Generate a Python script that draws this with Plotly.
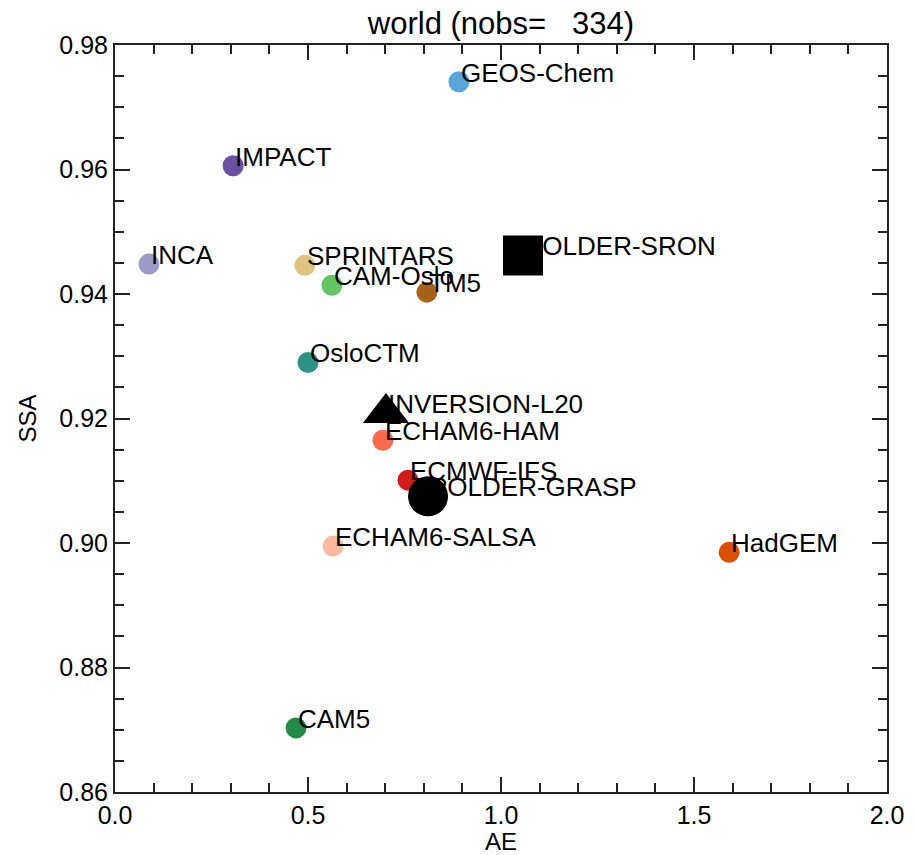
import plotly.graph_objects as go

# Model / retrieval names and their regional mean AE and SSA
models = ["GEOS-Chem", "IMPACT", "INCA", "SPRINTARS", "CAM-Oslo", "TM5",
          "OsloCTM", "ECHAM6-HAM", "ECMWF-IFS", "ECHAM6-SALSA", "HadGEM", "CAM5"]
model_ae = [0.891, 0.306, 0.088, 0.492, 0.562, 0.808,
            0.500, 0.694, 0.759, 0.565, 1.591, 0.469]
model_ssa = [0.9741, 0.9606, 0.9448, 0.9446, 0.9414, 0.9403,
             0.9290, 0.9165, 0.9101, 0.8995, 0.8985, 0.8703]
model_colors = ["#5aa5d8", "#6a51a3", "#9e9ac8", "#dfc27d", "#62c462", "#a6611a",
                "#2c9385", "#fb6a4a", "#d01c1c", "#fcbba1", "#d95000", "#238b45"]

obs_names = ["POLDER-SRON", "INVERSION-L20", "POLDER-GRASP"]
obs_ae = [1.057, 0.702, 0.811]
obs_ssa = [0.9462, 0.9209, 0.9075]
obs_symbols = ["square", "triangle-up", "circle"]

nobs = 334
title_text = "world (nobs=\u00a0\u00a0\u00a0" + str(nobs) + ")"

FONT = "Liberation Sans, Arial, Helvetica, sans-serif"

fig = go.Figure()

fig.add_trace(go.Scatter(
    x=model_ae, y=model_ssa, mode="markers",
    marker=dict(size=21, color=model_colors, opacity=1, line=dict(width=0)),
    hovertext=models, showlegend=False,
))

fig.add_trace(go.Scatter(
    x=obs_ae, y=obs_ssa, mode="markers",
    marker=dict(size=40, color="black", opacity=1, symbol=obs_symbols, line=dict(width=0)),
    hovertext=obs_names, showlegend=False,
))

# Labels: text starts at the point, baseline on the point
annotations = []
for name, xv, yv in zip(models + obs_names, model_ae + obs_ae, model_ssa + obs_ssa):
    annotations.append(dict(
        x=xv, y=yv, xref="x", yref="y", text=name, showarrow=False,
        xanchor="left", yanchor="bottom", yshift=-8, xshift=0,
        font=dict(family=FONT, size=26, color="black"),
    ))

axis_common = dict(
    showgrid=False, zeroline=False, showline=True, linecolor="#222222", linewidth=2,
    mirror="ticks", ticks="inside", ticklen=15, tickwidth=2, tickcolor="#222222",
    tickfont=dict(family=FONT, size=25, color="black"),
)

fig.update_xaxes(
    range=[0, 2], dtick=0.5, tick0=0, tickformat=".1f",
    minor=dict(dtick=0.1, ticks="inside", ticklen=9, tickwidth=2, tickcolor="#222222"),
    title=dict(text="AE", font=dict(family=FONT, size=24, color="black"), standoff=0),
    **axis_common,
)
fig.update_yaxes(
    range=[0.86, 0.98], dtick=0.02, tick0=0.86, tickformat=".2f",
    minor=dict(dtick=0.005, ticks="inside", ticklen=9, tickwidth=2, tickcolor="#222222"),
    title=dict(text="SSA", font=dict(family=FONT, size=24, color="black"), standoff=16),
    **axis_common,
)

fig.update_layout(
    width=916, height=855,
    margin=dict(l=115, r=29, t=45, b=63, autoexpand=False),
    paper_bgcolor="white", plot_bgcolor="white",
    title=dict(text=title_text, x=0.5469, xanchor="center", y=0.973, yanchor="middle",
               font=dict(family=FONT, size=31, color="black")),
    annotations=annotations,
    showlegend=False,
)

fig.write_html("out.html", config={"displayModeBar": False})
